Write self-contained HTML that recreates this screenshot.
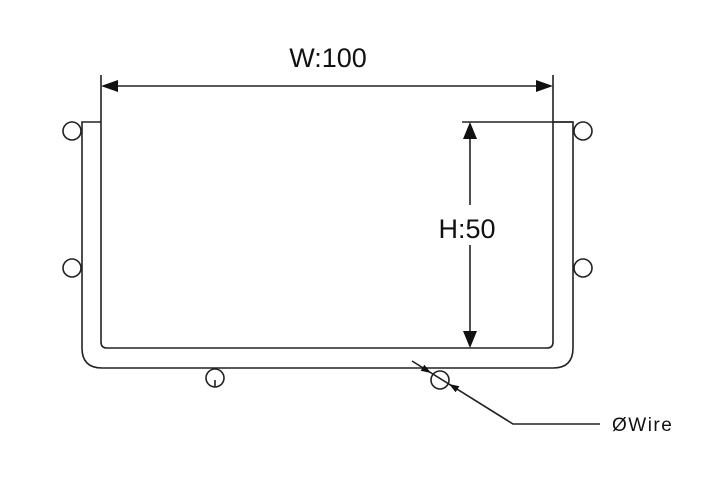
<!DOCTYPE html>
<html><head><style>body{margin:0;background:#fff}svg{display:block}</style></head><body>
<svg width="708" height="481" xmlns="http://www.w3.org/2000/svg" font-family="Liberation Sans, sans-serif">
<g fill="none" stroke="#222" stroke-width="1.6">
<path d="M101,122 L82,122 L82,348 Q82,368 102,368 L553,368 Q573,368 573,348 L573,122 L553,122"/>
<path d="M101,122 L101,342 Q101,348 107,348 L547,348 Q553,348 553,342 L553,122"/>
<line x1="101" y1="75" x2="101" y2="122"/>
<line x1="553" y1="75" x2="553" y2="122"/>
<line x1="118" y1="86" x2="536" y2="86"/>
<line x1="462" y1="122" x2="573" y2="122"/>
<line x1="470" y1="138" x2="470" y2="332"/>
<circle cx="72" cy="131" r="9"/><circle cx="72" cy="268" r="9"/>
<circle cx="583" cy="131" r="9"/><circle cx="583" cy="268" r="9"/>
<circle cx="215" cy="378" r="9"/><circle cx="440" cy="380" r="9"/>
<line x1="215" y1="380" x2="215" y2="387"/>
<polyline points="412,361 513,424 600,424"/>
</g>
<g fill="#111">
<polygon points="101,86 118,80 118,92"/>
<polygon points="553,86 536,80 536,92"/>
<polygon points="470,122 463,139 477,139"/>
<polygon points="470,348 463,331 477,331"/>
<polygon points="431,373 420.6,370.7 424.4,364.7"/>
<polygon points="449,384 455.6,392.3 459.4,386.3"/>
</g>
<rect x="414" y="205" width="100" height="40" fill="#fff"/>
<text x="328" y="67" font-size="27" text-anchor="middle" fill="#111">W:100</text>
<text x="467" y="238" font-size="27" text-anchor="middle" fill="#111">H:50</text>
<text x="612" y="431" font-size="19" letter-spacing="1.5" fill="#111">ØWire</text>
</svg>
</body></html>
